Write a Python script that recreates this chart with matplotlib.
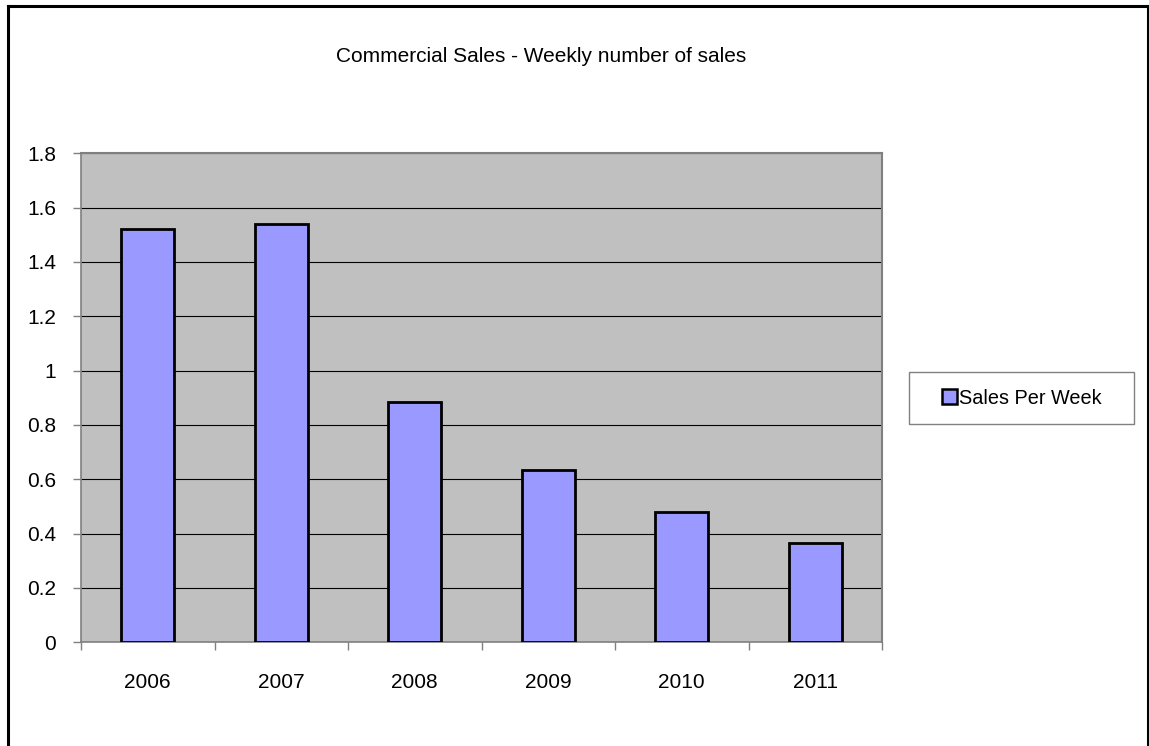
import numpy as np
import matplotlib.pyplot as plt
from matplotlib.ticker import FuncFormatter, FixedLocator
from matplotlib.lines import Line2D
from matplotlib.patches import Rectangle

years = ['2006', '2007', '2008', '2009', '2010', '2011']
sales_per_week = [1.52, 1.54, 0.885, 0.635, 0.48, 0.367]

plt.rcParams['font.family'] = ['Liberation Sans', 'DejaVu Sans']

W, H = 1149, 746
fig = plt.figure(figsize=(W / 100, H / 100), dpi=100)
fig.patch.set_facecolor('white')

# plot area in pixel coords of the reference
x0, x1, y_top, y_bot = 81, 882, 153.3, 642.3
ax = fig.add_axes([x0 / W, 1 - y_bot / H, (x1 - x0) / W, (y_bot - y_top) / H])
ax.set_facecolor('#c0c0c0')

x = np.arange(len(years))
ax.bar(x, sales_per_week, width=0.4, color='#9999ff', edgecolor='black',
       linewidth=2, zorder=3, label='Sales Per Week')

ax.set_xlim(-0.5, len(years) - 0.5)
ax.set_ylim(0, 1.8)
ax.set_yticks(np.arange(0, 1.81, 0.2))
ax.yaxis.set_major_formatter(FuncFormatter(lambda v, p: '%g' % round(v, 1)))
ax.yaxis.grid(True, color='black', linewidth=0.8, zorder=1)
ax.set_axisbelow(True)

ax.set_xticks(x)
ax.set_xticklabels(years)
ax.xaxis.set_minor_locator(FixedLocator(np.arange(-0.5, len(years), 1.0)))
ax.tick_params(axis='x', which='major', length=0, pad=22, labelsize=15)
ax.tick_params(axis='x', which='minor', length=6, color='#808080', width=1)
ax.tick_params(axis='y', length=6, color='#808080', width=1, pad=12, labelsize=15)

for side in ['top', 'right']:
    ax.spines[side].set_color('#808080')
    ax.spines[side].set_linewidth(1.5)
for side in ['left', 'bottom']:
    ax.spines[side].set_color('#808080')
    ax.spines[side].set_linewidth(1.2)

fig.text(541 / W, 1 - 57 / H, 'Commercial Sales - Weekly number of sales',
         ha='center', va='center', fontsize=15)

# legend: frame drawn by hand so it can be wider than tall padding allows
fig.add_artist(Rectangle((909 / W, 1 - 424 / H), 225 / W, 52 / H,
                         facecolor='white', edgecolor='#808080', linewidth=1))
leg = fig.legend(loc='center', bbox_to_anchor=(1022 / W, 1 - 398 / H),
                 fontsize=14.3, frameon=False, borderpad=0,
                 handlelength=0.75, handleheight=0.75, handletextpad=0.12,
                 borderaxespad=0)
for h in leg.legend_handles:
    h.set_linewidth(1.8)

# chart border
fig.add_artist(Line2D([7.5 / W, 1147.5 / W], [1 - 5.5 / H, 1 - 5.5 / H], color='black', linewidth=2.2))
fig.add_artist(Line2D([7.5 / W, 7.5 / W], [1 - 5.5 / H, 0], color='black', linewidth=2.2))
fig.add_artist(Line2D([1147.5 / W, 1147.5 / W], [1 - 5.5 / H, 0], color='black', linewidth=2.2))

fig.savefig('out.png', dpi=100, facecolor='white')
